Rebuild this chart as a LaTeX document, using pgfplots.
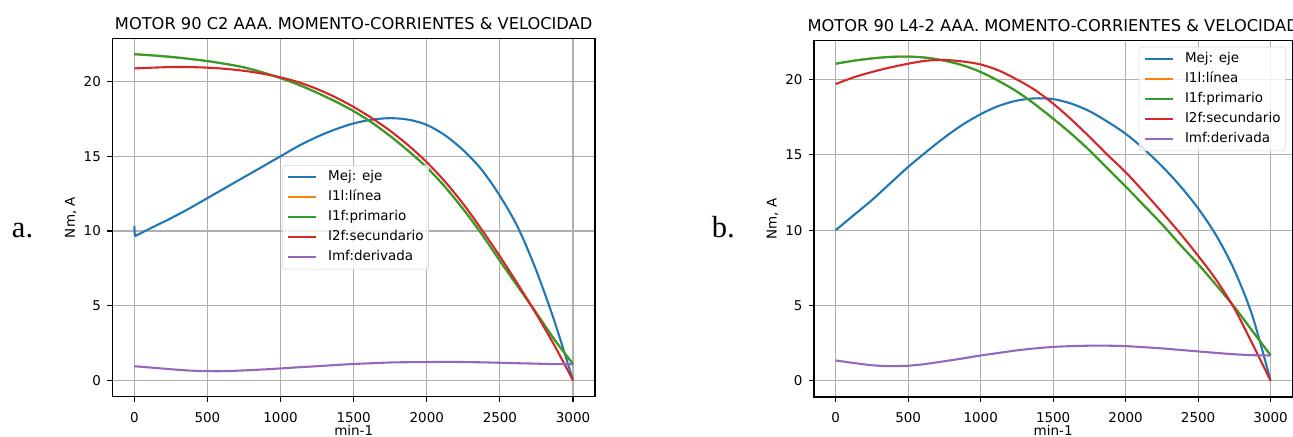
\documentclass[border=0pt]{standalone}
\usepackage{pgfplots}
\pgfplotsset{compat=1.18}
\usepackage{pgfplotstable}
\usepackage{fontspec}
\setmainfont{DejaVu Sans}
\newfontfamily\labelfont{Liberation Serif}
\definecolor{mblue}{HTML}{1F77B4}
\definecolor{morange}{HTML}{FF7F0E}
\definecolor{mgreen}{HTML}{2CA02C}
\definecolor{mred}{HTML}{D62728}
\definecolor{mpurple}{HTML}{9467BD}
\definecolor{mgrid}{HTML}{B0B0B0}
\definecolor{mlegend}{HTML}{D6D6D6}

% chart a
\pgfplotstableread{
x mej
0 10.35
4 9.65
}\spikeA
\pgfplotstableread{
x mej
4 9.65
125 10.25
250 10.85
375 11.5
500 12.2
625 12.9
750 13.6
875 14.3
1000 15.0
1125 15.7
1250 16.3
1375 16.8
1500 17.2
1625 17.45
1750 17.55
1875 17.45
2000 17.1
2125 16.4
2250 15.4
2375 14.1
2500 12.35
2625 10.2
2750 7.32
2875 3.9
3000 0
}\mejA
\pgfplotstableread{
x i1l i1f i2f imf
0 21.83 21.83 20.88 0.95
125 21.75 21.75 20.93 0.85
250 21.65 21.65 20.97 0.75
375 21.52 21.52 20.97 0.66
500 21.37 21.37 20.93 0.62
625 21.18 21.18 20.85 0.62
750 20.95 20.95 20.72 0.67
875 20.62 20.62 20.53 0.73
1000 20.23 20.23 20.28 0.80
1125 19.78 19.78 19.95 0.88
1250 19.25 19.25 19.50 0.95
1375 18.67 18.67 18.95 1.03
1500 18.02 18.02 18.30 1.10
1625 17.25 17.25 17.55 1.15
1750 16.35 16.35 16.70 1.20
1875 15.35 15.35 15.72 1.22
2000 14.25 14.25 14.60 1.23
2125 12.95 12.95 13.30 1.24
2250 11.45 11.45 11.80 1.23
2375 9.80 9.80 10.10 1.21
2500 8.00 8.00 8.30 1.18
2625 6.25 6.25 6.40 1.15
2750 4.50 4.50 4.42 1.12
2875 2.70 2.70 2.30 1.09
3000 1.10 1.10 0.00 1.08
}\curA
% chart b
\pgfplotstableread{
x mej i1l i1f i2f imf
0 10.0 21.05 21.05 19.70 1.35
125 11.0 21.25 21.25 20.15 1.18
250 12.0 21.40 21.40 20.50 1.03
375 13.1 21.50 21.50 20.80 0.97
500 14.2 21.52 21.52 21.05 1.00
625 15.2 21.45 21.45 21.25 1.12
750 16.15 21.25 21.25 21.30 1.30
875 17.0 20.95 20.95 21.20 1.48
1000 17.7 20.50 20.50 21.00 1.68
1125 18.25 19.90 19.90 20.60 1.85
1250 18.6 19.20 19.20 20.00 2.02
1375 18.75 18.35 18.35 19.30 2.15
1500 18.7 17.40 17.40 18.40 2.25
1625 18.4 16.40 16.40 17.35 2.30
1750 17.9 15.30 15.30 16.20 2.33
1875 17.2 14.10 14.10 15.00 2.33
2000 16.4 12.90 12.90 13.85 2.30
2125 15.4 11.65 11.65 12.55 2.23
2250 14.25 10.40 10.40 11.20 2.15
2375 12.95 9.05 9.05 9.80 2.05
2500 11.45 7.75 7.75 8.30 1.95
2625 9.65 6.35 6.35 6.70 1.85
2750 7.35 4.90 4.90 4.80 1.76
2875 4.3 3.30 3.30 2.45 1.70
3000 0.0 1.70 1.70 0.00 1.68
}\curB

\pgfplotsset{
  mpl/.style={
    scale only axis,
    xmin=-150, xmax=3150,
    xtick={0,500,...,3000},
    ytick={0,5,...,20},
    xtick pos=bottom, ytick pos=left,
    tick align=outside,
    major tick length=3.5pt,
    every tick/.style={black, line width=0.8pt},
    axis line style={black, line width=0.8pt},
    grid=major,
    major grid style={mgrid, line width=0.8pt},
    /pgf/number format/assume math mode=true,
    /pgf/number format/1000 sep={},
    ticklabel style={font=\fontsize{9.7}{11}\selectfont},
    xticklabel style={anchor=base, inner sep=0pt, yshift=-15pt},
    yticklabel style={anchor=east, inner sep=0pt, xshift=-4.6pt},
    every axis title/.style={at={(axis description cs:0.5,1)}, anchor=base, yshift=6.5pt, font=\fontsize{11.7}{14}\selectfont},
    every axis x label/.style={at={(axis description cs:0.5,0)}, anchor=base, yshift=-27.6pt, font=\fontsize{9.7}{11}\selectfont},
    every axis y label/.style={at={(axis description cs:0,0.5)}, rotate=90, anchor=base, yshift=26.9pt, font=\fontsize{9.7}{11}\selectfont},
    xlabel={min-1}, ylabel={Nm, A},
    legend cell align=left,
    legend image code/.code={\draw[##1, line width=1.5pt] (0pt,0pt) -- (20pt,0pt);},
    legend style={draw=mlegend, fill=white, fill opacity=0.8, text opacity=1, rounded corners=2pt,
      font=\fontsize{9.7}{11}\selectfont, inner xsep=3.5pt, inner ysep=4pt,
      row sep=5.2pt, column sep=8pt,
      nodes={inner sep=0pt, text height=7.2pt, text depth=2pt}},
    every axis plot/.append style={line width=1.5pt, line join=round, no markers},
  }
}

\begin{document}
\begin{tikzpicture}
\path[use as bounding box] (0,0) rectangle (931pt,314.64pt);
\node[anchor=base west, inner sep=0pt] at (8.4pt,143.8pt) {\labelfont\fontsize{22}{26}\selectfont a.};
\node[anchor=base west, inner sep=0pt] at (512.4pt,143.8pt) {\labelfont\fontsize{22}{26}\selectfont b.};

\begin{axis}[mpl, at={(80.9pt,29.0pt)}, anchor=south west,
  width=347.5pt, height=258.0pt,
  ymin=-1.09, ymax=22.89,
  title={MOTOR 90 C2 AAA. MOMENTO-CORRIENTES \& VELOCIDAD},
  legend style={at={(0.3516,0.6465)}, anchor=north west}]
\addplot[mblue, forget plot] table[x=x, y=mej] {\spikeA};
\addplot[mblue, smooth] table[x=x, y=mej] {\mejA};
\addlegendentry{Mej: eje}
\addplot[morange, smooth] table[x=x, y=i1l] {\curA};
\addlegendentry{I1l:línea}
\addplot[mgreen, smooth] table[x=x, y=i1f] {\curA};
\addlegendentry{I1f:primario}
\addplot[mred, smooth] table[x=x, y=i2f] {\curA};
\addlegendentry{I2f:secundario}
\addplot[mpurple, smooth] table[x=x, y=imf] {\curA};
\addlegendentry{Imf:derivada}
\end{axis}

\begin{axis}[mpl, at={(586.1pt,28.8pt)}, anchor=south west,
  width=344.4pt, height=256.5pt,
  ymin=-1.075, ymax=22.575,
  title={MOTOR 90 L4-2 AAA. MOMENTO-CORRIENTES \& VELOCIDAD},
  legend style={at={(0.986,0.983)}, anchor=north east}]
\addplot[mblue, smooth] table[x=x, y=mej] {\curB};
\addlegendentry{Mej: eje}
\addplot[morange, smooth] table[x=x, y=i1l] {\curB};
\addlegendentry{I1l:línea}
\addplot[mgreen, smooth] table[x=x, y=i1f] {\curB};
\addlegendentry{I1f:primario}
\addplot[mred, smooth] table[x=x, y=i2f] {\curB};
\addlegendentry{I2f:secundario}
\addplot[mpurple, smooth] table[x=x, y=imf] {\curB};
\addlegendentry{Imf:derivada}
\end{axis}
\end{tikzpicture}
\end{document}
